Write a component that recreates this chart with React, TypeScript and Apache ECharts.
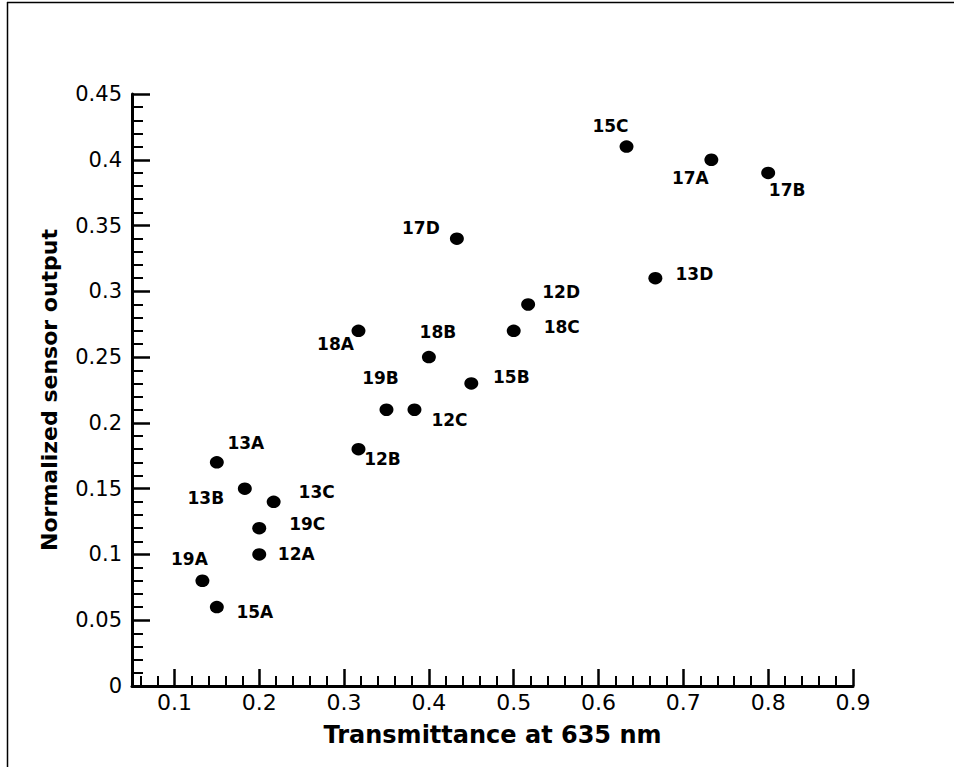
import React, { useEffect, useRef } from "react";
import * as echarts from "echarts";

// Sample names and measured values
const sampleNames = [
  "15C", "17A", "17B", "17D", "13D", "12D", "18C", "18A", "18B", "19B",
  "12C", "15B", "12B", "13A", "13B", "13C", "19C", "12A", "19A", "15A",
];
const transmittance = [
  0.633, 0.733, 0.8, 0.433, 0.667, 0.517, 0.5, 0.317, 0.4, 0.35,
  0.383, 0.45, 0.317, 0.15, 0.183, 0.217, 0.2, 0.2, 0.133, 0.15,
];
const sensorOutput = [
  0.41, 0.4, 0.39, 0.34, 0.31, 0.29, 0.27, 0.27, 0.25, 0.21,
  0.21, 0.23, 0.18, 0.17, 0.15, 0.14, 0.12, 0.1, 0.08, 0.06,
];
// Axis tick values
const xMajorTicks = [0.1, 0.2, 0.3, 0.4, 0.5, 0.6, 0.7, 0.8, 0.9];
const xMinorTicks = [
  0.06, 0.08, 0.12, 0.14, 0.16, 0.18, 0.22, 0.24, 0.26, 0.28, 0.32, 0.34, 0.36, 0.38,
  0.42, 0.44, 0.46, 0.48, 0.52, 0.54, 0.56, 0.58, 0.62, 0.64, 0.66, 0.68, 0.72, 0.74,
  0.76, 0.78, 0.82, 0.84, 0.86, 0.88,
];

// Label placement (pixel offsets from each point), styling only
const labelOffsets: [number, number][] = [
  [-16, -21], [-21, 18], [19, 17], [-36, -11], [39, -4], [33, -12], [48, -4], [-23, 13],
  [9, -25], [-6, -32], [35, 10], [40, -6], [24, 10], [29, -19], [-39, 9], [43, -10],
  [48, -4], [37, 0], [-13, -22], [38, 5],
];

const FONT = "DejaVu Sans";

export default function App() {
  const ref = useRef<HTMLDivElement>(null);

  useEffect(() => {
    if (!ref.current) return;
    const chart = echarts.init(ref.current, null, { renderer: "svg" });

    const data = sampleNames.map((name, i) => ({
      name,
      value: [transmittance[i], sensorOutput[i]],
      label: { offset: labelOffsets[i] },
    }));

    chart.setOption({
      animation: false,
      backgroundColor: "#ffffff",
      grid: { left: 132, right: 101, top: 94, bottom: 81, containLabel: false },
      graphic: [
        {
          type: "line",
          shape: { x1: 7, y1: 2.5, x2: 954, y2: 2.5 },
          style: { stroke: "#000", lineWidth: 1.5 },
        },
        {
          type: "line",
          shape: { x1: 7.5, y1: 2, x2: 7.5, y2: 767 },
          style: { stroke: "#000", lineWidth: 1.5 },
        },
      ],
      xAxis: [
        {
          type: "value",
          min: 0.05,
          max: 0.9,
          position: "bottom",
          name: "Transmittance at 635 nm",
          nameLocation: "middle",
          nameGap: 37,
          nameTextStyle: { fontFamily: FONT, fontWeight: "bold", fontSize: 24, color: "#000" },
          axisLine: { show: true, lineStyle: { color: "#000", width: 3 } },
          axisTick: {
            show: true,
            inside: true,
            length: 17,
            customValues: xMajorTicks,
            lineStyle: { color: "#000", width: 2.5 },
          },
          axisLabel: {
            show: true,
            customValues: xMajorTicks,
            formatter: (v: number) => String(Math.round(v * 10) / 10),
            fontFamily: FONT,
            fontSize: 22,
            color: "#000",
            margin: 5,
          },
          splitLine: { show: false },
        },
        {
          type: "value",
          min: 0.05,
          max: 0.9,
          position: "bottom",
          axisLine: { show: false },
          axisTick: {
            show: true,
            inside: true,
            length: 10,
            customValues: xMinorTicks,
            lineStyle: { color: "#000", width: 2 },
          },
          axisLabel: { show: false },
          splitLine: { show: false },
        },
      ],
      yAxis: {
        type: "value",
        min: 0,
        max: 0.45,
        interval: 0.05,
        name: "Normalized sensor output",
        nameLocation: "middle",
        nameGap: 72,
        nameTextStyle: { fontFamily: FONT, fontWeight: "bold", fontSize: 22, color: "#000" },
        axisLine: { show: true, lineStyle: { color: "#000", width: 3 } },
        axisTick: { show: true, inside: true, length: 18, lineStyle: { color: "#000", width: 2.5 } },
        minorTick: { show: true, splitNumber: 5, length: 11, lineStyle: { color: "#000", width: 2 } },
        axisLabel: { fontFamily: FONT, fontSize: 21, color: "#000", margin: 10 },
        splitLine: { show: false },
        minorSplitLine: { show: false },
      },
      series: [
        {
          type: "scatter",
          xAxisIndex: 0,
          yAxisIndex: 0,
          symbol: "circle",
          symbolSize: [14, 12.5],
          itemStyle: { color: "#000", opacity: 1 },
          label: {
            show: true,
            position: "inside",
            formatter: "{b}",
            fontFamily: FONT,
            fontWeight: "bold",
            fontSize: 17,
            color: "#000",
            opacity: 1,
            align: "center",
            verticalAlign: "middle",
          },
          emphasis: { disabled: true },
          data,
        },
      ],
    });

    return () => chart.dispose();
  }, []);

  return (
    <div
      ref={ref}
      style={{ position: "fixed", left: 0, top: 0, width: 954, height: 767, background: "#fff" }}
    />
  );
}
